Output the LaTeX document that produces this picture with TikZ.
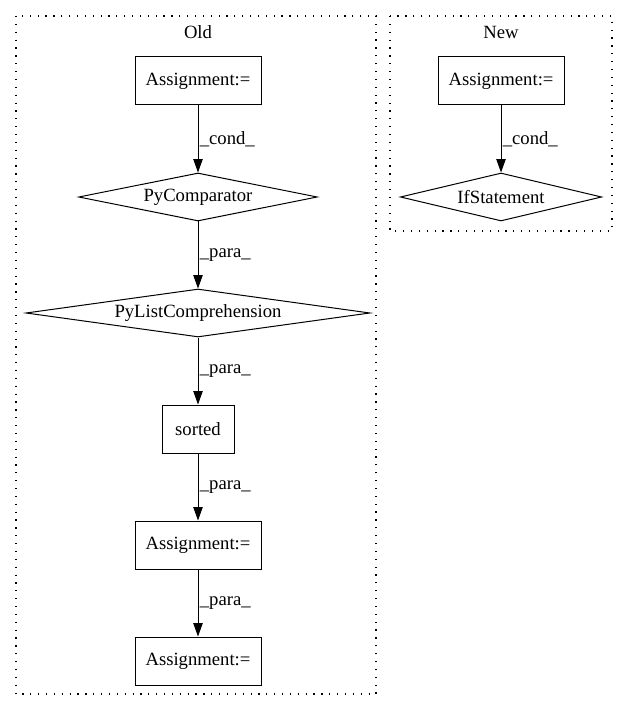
\documentclass[tikz,border=0pt]{standalone}
\usepackage{fontspec}
\setmainfont{Liberation Serif}
\usetikzlibrary{shapes.geometric,arrows.meta}
\tikzset{
  stmt/.style={draw, rectangle, line width=0.75pt, minimum width=94.5pt, minimum height=36pt, inner sep=0pt, font=\fontsize{14}{16}\selectfont},
  cmp/.style={draw, diamond, line width=0.75pt, inner sep=0pt, font=\fontsize{14}{16}\selectfont},
  cluster/.style={draw, line width=0.9pt, dash pattern=on 0.9pt off 5pt},
  title/.style={font=\fontsize{14}{16}\selectfont},
  flow/.style={-{Triangle[length=10pt,width=7pt]}, line width=0.75pt},
  elab/.style={right, inner sep=1pt, font=\fontsize{14}{16}\selectfont}
}
\begin{document}
\begin{tikzpicture}[x=0.75pt, y=-0.75pt]
		\useasboundingbox (0,0) rectangle (621,712);
		% clusters
		\draw[cluster] (16,16) rectangle (376,694);
		\draw[cluster] (390,16) rectangle (612,231);
		\node[title] (told) at (198,32) {Old};
		\node[title] (tnew) at (501,32) {New};
		% old
		\node[stmt] (a1) at (198,81) {Assignment:=};
		\node[cmp, minimum width=179pt, minimum height=36pt, aspect=5] (pc) at (198,197) {PyComparator};
		\node[cmp, minimum width=258pt, minimum height=36pt, aspect=7.2] (plc) at (198,313) {PyListComprehension};
		\node[stmt, minimum width=54pt] (srt) at (198,429) {sorted};
		\node[stmt] (a2) at (198,545) {Assignment:=};
		\node[stmt] (a3) at (198,661) {Assignment:=};
		% new
		\node[stmt] (b1) at (501,81) {Assignment:=};
		\node[cmp, minimum width=151pt, minimum height=36pt, aspect=4.2] (ifs) at (501,197) {IfStatement};
		% edges
		\draw[flow] (a1) -- node[elab]{\_cond\_} (pc);
		\draw[flow] (pc) -- node[elab]{\_para\_} (plc);
		\draw[flow] (plc) -- node[elab]{\_para\_} (srt);
		\draw[flow] (srt) -- node[elab]{\_para\_} (a2);
		\draw[flow] (a2) -- node[elab]{\_para\_} (a3);
		\draw[flow] (b1) -- node[elab]{\_cond\_} (ifs);
\end{tikzpicture}
\end{document}
